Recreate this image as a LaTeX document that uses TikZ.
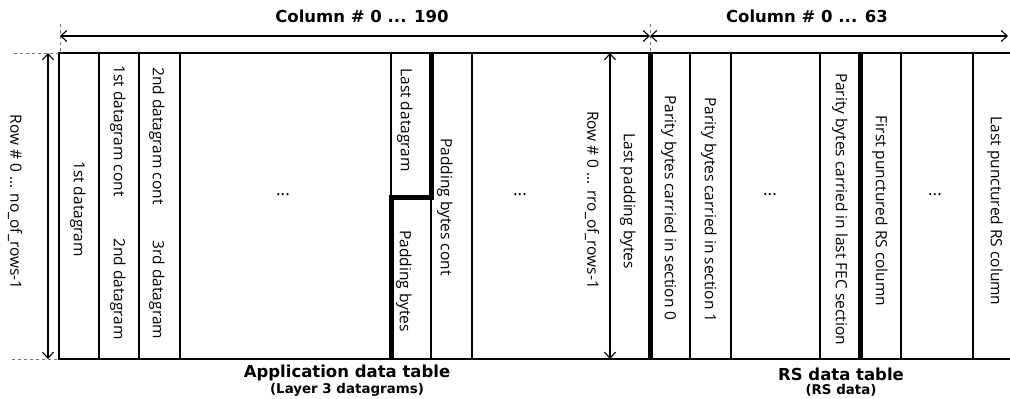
\documentclass[tikz,border=0pt]{standalone}
\usepackage{fontspec}
\setsansfont{Open Sans}
\newfontfamily\headfont{DejaVu Sans}
\usetikzlibrary{arrows.meta}

\begin{document}
\begin{tikzpicture}[x=1pt, y=-1pt, font=\sffamily\fontsize{15.5}{18}\selectfont,
  cell/.style={rotate=-90, inner sep=0pt},
  rule/.style={line width=1.3pt},
  secline/.style={line width=5pt},
  guide/.style={black!55, dashed, line width=0.9pt},
  dimarrow/.style={line width=1.1pt, {Straight Barb[length=6pt,width=11pt]}-{Straight Barb[length=6pt,width=11pt]}},
  head/.style={font=\headfont\bfseries\fontsize{16.5}{19}\selectfont},
  subhead/.style={font=\headfont\bfseries\fontsize{13.4}{15}\selectfont},
  dots/.style={font=\sffamily\fontsize{17}{19}\selectfont}]

  \useasboundingbox (0,0) rectangle (1010,399);

  % Table frame
  \draw[line width=2.8pt] (1010,53) -- (59,53) -- (59,359) -- (1010,359);

  % Column rules
  \foreach \x in {99,139,180,472,690,731,820,901,973}
    \draw[rule] (\x,53) -- (\x,359);
  \draw[rule] (391,53) -- (391,197);
  \draw[rule] (431,197) -- (431,359);

  % Section boundaries
  \draw[secline] (431,53) -- (431,197) -- (391,197) -- (391,359);
  \draw[secline] (650,53) -- (650,359);
  \draw[secline] (860,53) -- (860,359);

  % Guides
  \coordinate (appL) at (60,36);
  \coordinate (appR) at (650,36);
  \coordinate (rsR) at (1008,36);
  \coordinate (rowT) at (48,53);
  \coordinate (rowB) at (48,359);
  \coordinate (padT) at (610,53);
  \coordinate (padB) at (610,359);
  \draw[guide] (60,24) -- (60,53);
  \draw[guide] (650,24) -- (650,53);
  \draw[guide] (14,53) -- (59,53);
  \draw[guide] (12,359) -- (59,359);

  % Dimension arrows
  \draw[dimarrow] (appL) -- (appR);
  \draw[dimarrow] (appR) -- (rsR);
  \draw[dimarrow] (rowT) -- (rowB);
  \draw[dimarrow] (padT) -- (padB);

  \node[head] (colapp) at (362,16) {Column \# 0 ... 190};
  \node[head] (colrs) at (807,16) {Column \# 0 ... 63};
  \node[cell] (rowall) at (15,202) {Row \# 0 ... no\_of\_rows-1};
  \node[cell] (rowpad) at (592,200) {Row \# 0 ... rro\_of\_rows-1};

  % Application data table
  \node[cell] (dg1) at (78,209) {1st datagram};
  \node[cell] (dg1c) at (118,131) {1st datagram cont};
  \node[cell] (dg2) at (118,289) {2nd datagram};
  \node[cell] (dg2c) at (157,136) {2nd datagram cont};
  \node[cell] (dg3) at (157,290) {3rd datagram};
  \node[dots] (dotsa) at (283,195) {...};
  \node[cell] (dglast) at (405,120) {Last datagram};
  \node[cell] (pad) at (404,281) {Padding bytes};
  \node[cell] (padc) at (445,207) {Padding bytes cont};
  \node[dots] (dotsb) at (520,195) {...};
  \node[cell] (padlast) at (628,201) {Last padding bytes};

  % RS data table
  \node[cell] (par0) at (669,208) {Parity bytes carried in section 0};
  \node[cell] (par1) at (709,210) {Parity bytes carried in section 1};
  \node[dots] (dotsc) at (770,195) {...};
  \node[cell] (parlast) at (840,209) {Parity bytes carried in last FEC section};
  \node[cell] (punfirst) at (880,211) {First punctured RS column};
  \node[dots] (dotsd) at (935,195) {...};
  \node[cell] (punlast) at (995,211) {Last punctured RS column};

  % Table captions
  \node[head] (apptab) at (347,373) {Application data table};
  \node[subhead] (appsub) at (347,390) {(Layer 3 datagrams)};
  \node[head] (rstab) at (841,374) {RS data table};
  \node[subhead] (rssub) at (841,390) {(RS data)};
\end{tikzpicture}
\end{document}
